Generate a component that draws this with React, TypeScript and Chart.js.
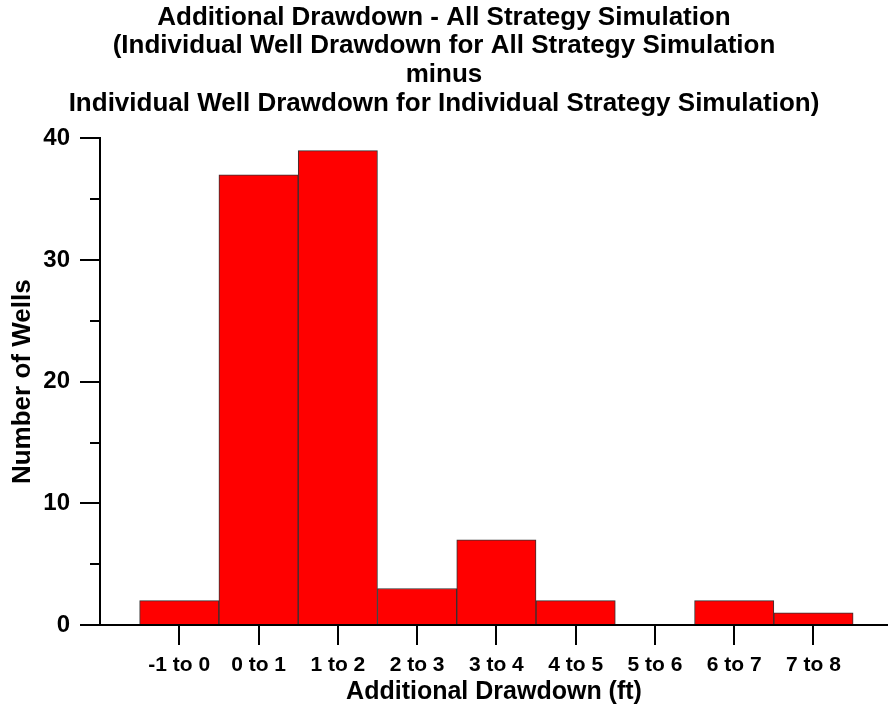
import React, { useEffect, useRef } from 'react';
import { Chart, registerables } from 'chart.js';

Chart.register(...registerables);

const categories = ['-1 to 0', '0 to 1', '1 to 2', '2 to 3', '3 to 4', '4 to 5', '5 to 6', '6 to 7', '7 to 8'];
const wellCounts = [2, 37, 39, 3, 7, 2, 0, 2, 1];
const yMinorTicks = [5, 15, 25, 35];
const titleLines = [
  'Additional Drawdown - All Strategy Simulation',
  '(Individual Well Drawdown for All Strategy Simulation',
  'minus',
  'Individual Well Drawdown for Individual Strategy Simulation)',
];
const xTitle = 'Additional Drawdown (ft)';
const yTitle = 'Number of Wells';

const FONT = 'Liberation Sans, Arial, sans-serif';

const minorTickPlugin = {
  id: 'minorTicks',
  afterDraw(chart: any) {
    const y = chart.scales.y;
    const ctx = chart.ctx;
    ctx.save();
    ctx.strokeStyle = '#000';
    ctx.lineWidth = 2;
    for (const v of yMinorTicks) {
      const py = Math.round(y.getPixelForValue(v));
      ctx.beginPath();
      ctx.moveTo(y.right - 10, py);
      ctx.lineTo(y.right, py);
      ctx.stroke();
    }
    ctx.restore();
  },
};

export default function App() {
  const ref = useRef<HTMLCanvasElement | null>(null);
  useEffect(() => {
    if (!ref.current) return;
    const chart = new Chart(ref.current, {
      type: 'bar',
      data: {
        datasets: [
          {
            data: wellCounts.map((v, i) => ({ x: i, y: v })),
            backgroundColor: '#ff0000',
            borderColor: '#333333',
            borderWidth: 1,
            barPercentage: 1,
            categoryPercentage: 1,
          },
        ],
      },
      options: {
        animation: false,
        responsive: true,
        maintainAspectRatio: false,
        layout: { padding: { left: 0, right: 0, top: 0, bottom: 0 } },
        plugins: {
          legend: { display: false },
          tooltip: { enabled: false },
          title: {
            display: true,
            text: titleLines,
            color: '#000',
            font: { family: FONT, size: 26, weight: 'bold', lineHeight: 1.11 },
            padding: { top: 3, bottom: 20 },
          },
        },
        scales: {
          x: {
            type: 'linear',
            min: -1,
            max: 8.94,
            offset: false,
            afterBuildTicks: (scale: any) => {
              scale.ticks = categories.map((_, i) => ({ value: i }));
            },
            afterFit: (scale: any) => {
              scale.height = 86;
            },
            grid: { display: true, drawOnChartArea: false, offset: false, tickLength: 20, color: '#000', lineWidth: 2 },
            border: { display: true, color: '#000', width: 2 },
            ticks: {
              autoSkip: false,
              maxRotation: 0,
              padding: 8,
              color: '#000',
              font: { family: FONT, size: 21, weight: 'bold' },
              callback: (v: any) => categories[Math.round(Number(v))] ?? '',
            },
            title: {
              display: true,
              text: xTitle,
              color: '#000',
              font: { family: FONT, size: 25, weight: 'bold', lineHeight: 1.15 },
              padding: { top: 0, bottom: 5 },
            },
          },
          y: {
            min: 0,
            max: 40,
            afterFit: (scale: any) => {
              scale.width = 100;
            },
            grid: { display: true, drawOnChartArea: false, tickLength: 20, color: '#000', lineWidth: 2 },
            border: { display: true, color: '#000', width: 2 },
            ticks: {
              stepSize: 10,
              padding: 10,
              color: '#000',
              font: { family: FONT, size: 24, weight: 'bold' },
            },
            title: {
              display: true,
              text: yTitle,
              color: '#000',
              font: { family: FONT, size: 26, weight: 'bold', lineHeight: 1.15 },
              padding: { top: 8, bottom: 0 },
            },
          },
        },
      },
      plugins: [minorTickPlugin],
    } as any);
    return () => chart.destroy();
  }, []);
  return (
    <div style={{ position: 'absolute', left: 0, top: 0, width: 888, height: 711, background: '#fff' }}>
      <canvas ref={ref} />
    </div>
  );
}
